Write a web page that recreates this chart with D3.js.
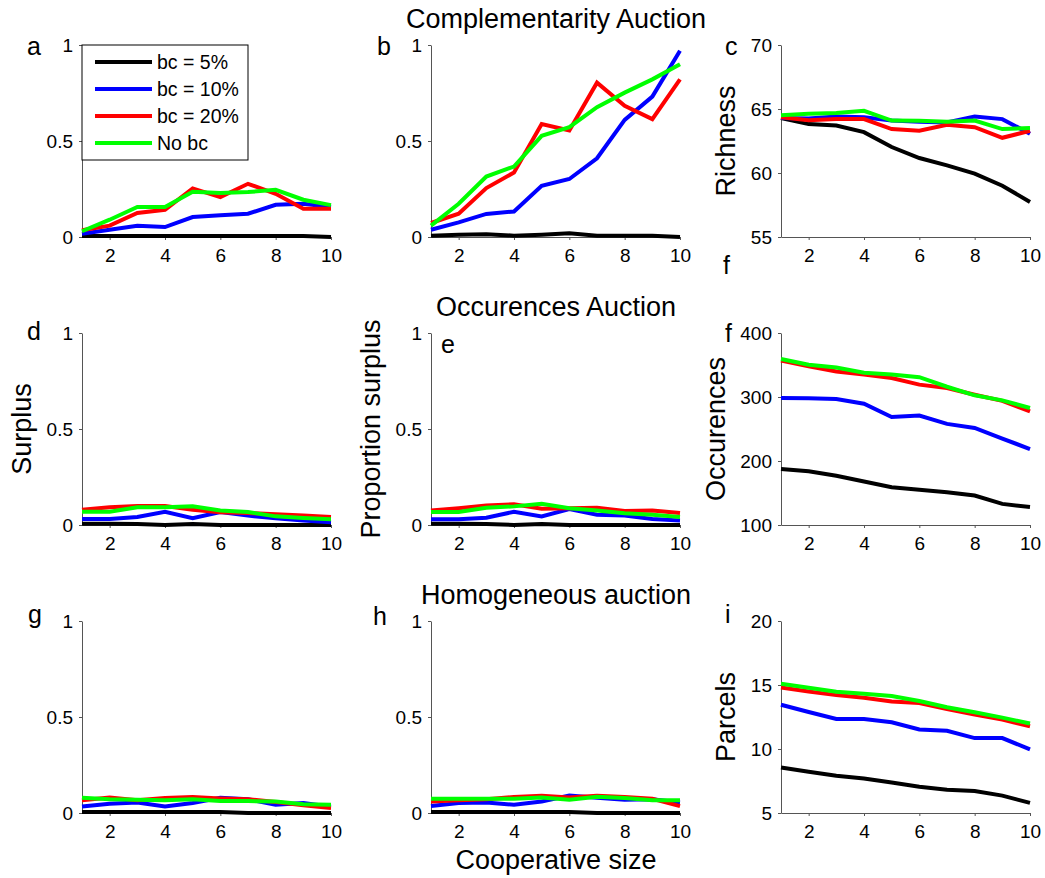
<!DOCTYPE html>
<html>
<head>
<meta charset="utf-8">
<script src="https://cdn.jsdelivr.net/npm/d3@7"></script>
<style>
  body { margin: 0; background: #fff; }
  text { font-family: Arial, "Liberation Sans", Helvetica, sans-serif; fill: #000; }
</style>
</head>
<body>
<div id="chart-area"></div>
<script>
// x values: cooperative size
let sizes = [1, 2, 3, 4, 5, 6, 7, 8, 9, 10]
let xTicks = [2, 4, 6, 8, 10]

let seriesNames = ["bc = 5%", "bc = 10%", "bc = 20%", "No bc"]
let seriesColors = ["#000000", "#0000ff", "#ff0000", "#00ff00"]

// each panel: [bc5, bc10, bc20, noBc]
let aSeries = [
    [0.005, 0.005, 0.005, 0.005, 0.005, 0.005, 0.005, 0.005, 0.005, 0.0],
    [0.017, 0.038, 0.059, 0.052, 0.104, 0.113, 0.121, 0.168, 0.173, 0.156],
    [0.035, 0.059, 0.125, 0.142, 0.253, 0.208, 0.277, 0.225, 0.147, 0.147],
    [0.030, 0.090, 0.156, 0.156, 0.236, 0.229, 0.234, 0.246, 0.194, 0.166]
]
let bSeries = [
    [0.007, 0.012, 0.014, 0.007, 0.012, 0.020, 0.007, 0.007, 0.007, 0.0],
    [0.038, 0.076, 0.120, 0.133, 0.267, 0.302, 0.410, 0.610, 0.731, 0.970],
    [0.073, 0.121, 0.255, 0.336, 0.588, 0.555, 0.804, 0.683, 0.614, 0.821],
    [0.059, 0.173, 0.315, 0.367, 0.527, 0.572, 0.676, 0.752, 0.821, 0.900]
]
let cSeries = [
    [64.29, 63.82, 63.71, 63.19, 62.03, 61.17, 60.60, 59.95, 59.01, 57.74],
    [64.29, 64.26, 64.42, 64.36, 64.10, 64.00, 63.95, 64.42, 64.21, 63.06],
    [64.36, 64.13, 64.21, 64.21, 63.43, 63.30, 63.77, 63.58, 62.75, 63.30],
    [64.52, 64.62, 64.68, 64.86, 64.10, 64.08, 64.00, 64.10, 63.43, 63.51]
]
let dSeries = [
    [0.007, 0.007, 0.005, 0.0, 0.005, 0.0, 0.0, 0.0, 0.0, 0.0],
    [0.031, 0.031, 0.042, 0.069, 0.036, 0.068, 0.049, 0.035, 0.023, 0.014],
    [0.080, 0.092, 0.099, 0.099, 0.080, 0.066, 0.062, 0.056, 0.049, 0.042],
    [0.069, 0.069, 0.092, 0.092, 0.097, 0.075, 0.068, 0.045, 0.036, 0.030]
]
let eSeries = [
    [0.007, 0.007, 0.005, 0.0, 0.005, 0.0, 0.0, 0.0, 0.0, 0.0],
    [0.030, 0.030, 0.038, 0.069, 0.045, 0.083, 0.054, 0.049, 0.031, 0.024],
    [0.075, 0.087, 0.102, 0.108, 0.085, 0.087, 0.090, 0.073, 0.076, 0.062],
    [0.068, 0.068, 0.090, 0.097, 0.111, 0.087, 0.075, 0.061, 0.054, 0.042]
]
let fSeries = [
    [187.5, 184, 177, 168, 159, 155, 151, 146, 133, 128],
    [298.4, 298, 297, 289.6, 268.8, 271, 258, 251.6, 235, 218.7],
    [356.8, 348, 340, 335, 329.7, 319.3, 314, 303.6, 294, 277.6],
    [359.4, 350.5, 346, 338, 335, 331, 316, 302.6, 294.8, 282.8]
]
let gSeries = [
    [0.005, 0.005, 0.005, 0.005, 0.005, 0.005, 0.0, 0.0, 0.0, 0.0],
    [0.034, 0.048, 0.055, 0.034, 0.052, 0.079, 0.072, 0.043, 0.052, 0.033],
    [0.066, 0.081, 0.066, 0.078, 0.083, 0.076, 0.072, 0.057, 0.040, 0.026],
    [0.079, 0.072, 0.069, 0.066, 0.072, 0.062, 0.062, 0.060, 0.045, 0.043]
]
let hSeries = [
    [0.005, 0.005, 0.005, 0.005, 0.005, 0.005, 0.0, 0.0, 0.0, 0.0],
    [0.036, 0.052, 0.055, 0.043, 0.060, 0.091, 0.079, 0.069, 0.072, 0.055],
    [0.060, 0.067, 0.072, 0.083, 0.090, 0.081, 0.090, 0.083, 0.074, 0.036],
    [0.074, 0.074, 0.074, 0.074, 0.081, 0.069, 0.084, 0.078, 0.067, 0.066]
]
let iSeries = [
    [8.55, 8.22, 7.91, 7.70, 7.39, 7.05, 6.82, 6.72, 6.36, 5.79],
    [13.46, 12.89, 12.35, 12.35, 12.09, 11.52, 11.42, 10.85, 10.85, 9.97],
    [14.81, 14.50, 14.21, 14.00, 13.72, 13.59, 13.13, 12.69, 12.30, 11.78],
    [15.09, 14.78, 14.47, 14.32, 14.14, 13.75, 13.26, 12.87, 12.45, 11.99]
]

let propTicks = [0, 0.5, 1]
let richTicks = [55, 60, 65, 70]
let occTicks = [100, 200, 300, 400]
let parcelTicks = [5, 10, 15, 20]

let rowTitles = ["Complementarity Auction", "Occurences Auction", "Homogeneous auction"]

let width = 1045
let height = 878

let colX = [82, 431, 781]
let rowY = [45, 333, 621]
let pw = 249
let ph = 192

let svg = d3.select("#chart-area")
            .append("svg")
            .attr("width", width)
            .attr("height", height)

let panels = [
    { s: aSeries, ticks: propTicks, col: 0, row: 0, letter: "a", lx: 27, ly: 55 },
    { s: bSeries, ticks: propTicks, col: 1, row: 0, letter: "b", lx: 377, ly: 55 },
    { s: cSeries, ticks: richTicks, col: 2, row: 0, letter: "c", lx: 725, ly: 55, label: "Richness", labX: 735 },
    { s: dSeries, ticks: propTicks, col: 0, row: 1, letter: "d", lx: 27, ly: 340, label: "Surplus", labX: 31 },
    { s: eSeries, ticks: propTicks, col: 1, row: 1, letter: "e", lx: 441, ly: 353, label: "Proportion surplus", labX: 380 },
    { s: fSeries, ticks: occTicks, col: 2, row: 1, letter: "f", lx: 725, ly: 342, label: "Occurences", labX: 725 },
    { s: gSeries, ticks: propTicks, col: 0, row: 2, letter: "g", lx: 28, ly: 623 },
    { s: hSeries, ticks: propTicks, col: 1, row: 2, letter: "h", lx: 373, ly: 625 },
    { s: iSeries, ticks: parcelTicks, col: 2, row: 2, letter: "i", lx: 725, ly: 623, label: "Parcels", labX: 735 }
]

panels.forEach(p => {
    let x0 = colX[p.col]
    let y0 = rowY[p.row]

    let xScale = d3.scaleLinear().domain([1, 10]).range([x0, x0 + pw])
    let yScale = d3.scaleLinear()
                   .domain([p.ticks[0], p.ticks[p.ticks.length - 1]])
                   .range([y0 + ph, y0])

    let xAxis = svg.append("g")
        .attr("transform", `translate(0,${y0 + ph})`)
        .call(d3.axisBottom(xScale).tickValues(xTicks).tickSize(3).tickSizeOuter(0).tickPadding(9))
    let yAxis = svg.append("g")
        .attr("transform", `translate(${x0},0)`)
        .call(d3.axisLeft(yScale).tickValues(p.ticks).tickSize(3).tickSizeOuter(0).tickPadding(6)
              .tickFormat(d3.format("~g")))

    ;[xAxis, yAxis].forEach(ax => {
        ax.select(".domain").attr("stroke", "#555")
        ax.selectAll(".tick line").attr("stroke", "#555")
        ax.selectAll("text").attr("font-size", 19).attr("fill", "#000")
            .attr("font-family", "Arial, 'Liberation Sans', sans-serif")
    })

    let line = d3.line()
                 .x((d, i) => xScale(sizes[i]))
                 .y(d => yScale(d))

    p.s.forEach((vals, k) => {
        svg.append("path")
           .datum(vals)
           .attr("d", line)
           .attr("fill", "none")
           .attr("stroke", seriesColors[k])
           .attr("stroke-width", 4)
           .attr("stroke-linejoin", "miter")
    })

    svg.append("text")
       .attr("x", p.lx).attr("y", p.ly)
       .attr("font-size", 25)
       .text(p.letter)

    if (p.label) {
        svg.append("text")
           .attr("transform", `translate(${p.labX},${y0 + ph / 2}) rotate(-90)`)
           .attr("text-anchor", "middle")
           .attr("font-size", 27)
           .text(p.label)
    }
})

// stray letter under panel c
svg.append("text").attr("x", 723).attr("y", 274).attr("font-size", 25).text("f")

// row titles
rowTitles.forEach((t, r) => {
    svg.append("text")
       .attr("x", 556).attr("y", rowY[r] - 17)
       .attr("text-anchor", "middle")
       .attr("font-size", 27)
       .text(t)
})

svg.append("text")
   .attr("x", 556).attr("y", 869)
   .attr("text-anchor", "middle")
   .attr("font-size", 27)
   .text("Cooperative size")

// legend in panel a
let legend = svg.append("g")
legend.append("rect")
      .attr("x", 82).attr("y", 45)
      .attr("width", 166).attr("height", 115)
      .attr("fill", "#fff")
      .attr("stroke", "#000")
      .attr("stroke-width", 1)

seriesNames.forEach((name, k) => {
    let ly = 62 + k * 27
    legend.append("line")
          .attr("x1", 95).attr("x2", 152)
          .attr("y1", ly).attr("y2", ly)
          .attr("stroke", seriesColors[k])
          .attr("stroke-width", 4)
    legend.append("text")
          .attr("x", 157).attr("y", ly)
          .attr("dy", "0.35em")
          .attr("font-size", 19.5)
          .text(name)
})
</script>
</body>
</html>
